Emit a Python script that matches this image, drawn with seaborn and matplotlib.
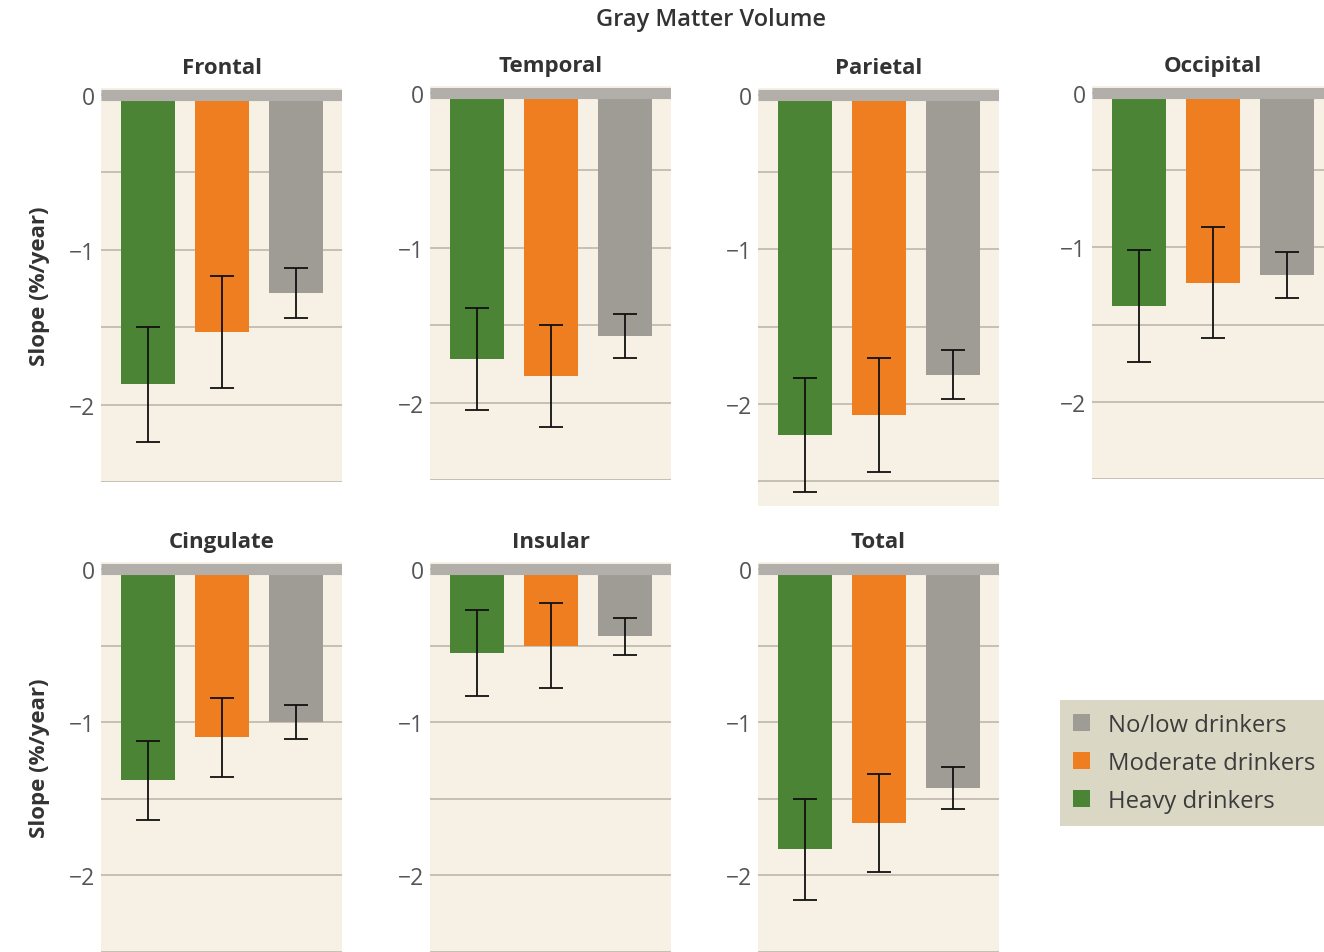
import matplotlib
matplotlib.use("Agg")
import matplotlib.pyplot as plt
from matplotlib.patches import Patch
import pandas as pd
import seaborn as sns

# Annual change in gray matter volume by region and drinking group
regions = ["Frontal", "Temporal", "Parietal", "Occipital", "Cingulate", "Insular", "Total"]
groups = ["Heavy drinkers", "Moderate drinkers", "No/low drinkers"]

heavy_slope = [-1.87, -1.72, -2.20, -1.38, -1.38, -0.55, -1.83]
heavy_err = [0.37, 0.33, 0.37, 0.36, 0.26, 0.28, 0.33]
moderate_slope = [-1.53, -1.83, -2.07, -1.23, -1.10, -0.50, -1.66]
moderate_err = [0.36, 0.33, 0.37, 0.36, 0.26, 0.28, 0.32]
nolow_slope = [-1.28, -1.57, -1.81, -1.18, -1.00, -0.44, -1.43]
nolow_err = [0.16, 0.14, 0.16, 0.15, 0.11, 0.12, 0.14]

ytick_values = [0, -0.5, -1, -1.5, -2, -2.5]
ytick_labels = ["0", "", "\u22121", "", "\u22122", ""]

GREEN = "#4a8434"
ORANGE = "#ee7e1f"
GRAY = "#9f9c95"
PANEL_BG = "#f7f0e4"
ZERO_BAND = "#b2afaa"
GRID = "#b9b2a6"
TEXT = "#333333"
palette = {"Heavy drinkers": GREEN, "Moderate drinkers": ORANGE, "No/low drinkers": GRAY}

sns.set_style("white")
plt.rcParams["font.family"] = ["Open Sans", "DejaVu Sans"]

W, H = 1324, 953
fig = plt.figure(figsize=(W / 100, H / 100), dpi=100)


def rect(left, top, right, bottom):
    return [left / W, 1 - bottom / H, (right - left) / W, (bottom - top) / H]


# panel frames in pixels: left, top, right, bottom
frames = [
    (101, 89, 342, 483),
    (430, 87, 671, 481),
    (758, 89, 999, 507),
    (1092, 87, 1333, 480),
    (101, 563, 342, 953),
    (430, 563, 671, 953),
    (758, 563, 999, 953),
]
y_bottoms = [-2.5, -2.5, -2.66, -2.5, -2.48, -2.48, -2.48]

for i, region in enumerate(regions):
    ax = fig.add_axes(rect(*frames[i]))
    df = pd.DataFrame({
        "group": groups,
        "slope": [heavy_slope[i], moderate_slope[i], nolow_slope[i]],
        "err": [heavy_err[i], moderate_err[i], nolow_err[i]],
    })
    sns.barplot(data=df, x="group", y="slope", hue="group", order=groups,
                hue_order=groups, palette=palette, width=0.73, dodge=False,
                errorbar=None, legend=False, saturation=1, linewidth=0,
                ax=ax, zorder=2)
    ax.errorbar(range(len(groups)), df["slope"], yerr=df["err"], fmt="none",
                ecolor="#111111", elinewidth=1.3, capsize=8.5, capthick=1.3,
                zorder=4)
    ax.axhline(0, color=ZERO_BAND, lw=8, zorder=5, solid_capstyle="butt")
    ax.set_facecolor(PANEL_BG)
    ax.set_xlim(-0.63, 2.615)
    ax.set_ylim(y_bottoms[i], 0.045)
    ax.set_yticks(ytick_values)
    ax.set_yticklabels(ytick_labels)
    ax.yaxis.grid(True, color=GRID, lw=1.1, zorder=0)
    ax.set_axisbelow(True)
    ax.set_xticks([])
    ax.set_xlabel("")
    ax.tick_params(axis="y", length=0, pad=4, labelsize=16.5, labelcolor="#555555")
    for s in ax.spines.values():
        s.set_visible(False)
    ax.set_title(region, fontsize=16, fontweight="bold", color=TEXT, pad=11)
    if i in (0, 4):
        ax.set_ylabel("Slope (%/year)", fontsize=16, fontweight="bold",
                      color=TEXT, labelpad=14)
    else:
        ax.set_ylabel("")

fig.text(711 / W, 1 - 20 / H, "Gray Matter Volume", ha="center", va="center",
         fontsize=17, fontweight="semibold", color=TEXT)

handles = [Patch(facecolor=palette[g], edgecolor="none") for g in reversed(groups)]
leg = fig.legend(handles, list(reversed(groups)), loc="upper left",
                 bbox_to_anchor=(1060 / W, 1 - 701 / H), frameon=True,
                 fancybox=False, fontsize=17.2, handlelength=0.72, handleheight=0.72,
                 handletextpad=0.72, labelspacing=0.58, borderpad=0.55,
                 borderaxespad=0)
leg.get_frame().set_facecolor("#dbd7c5")
leg.get_frame().set_edgecolor("none")
leg.get_frame().set_alpha(1)
for t in leg.get_texts():
    t.set_color("#3c3c3c")

fig.savefig("out.png", dpi=100, facecolor="white")
